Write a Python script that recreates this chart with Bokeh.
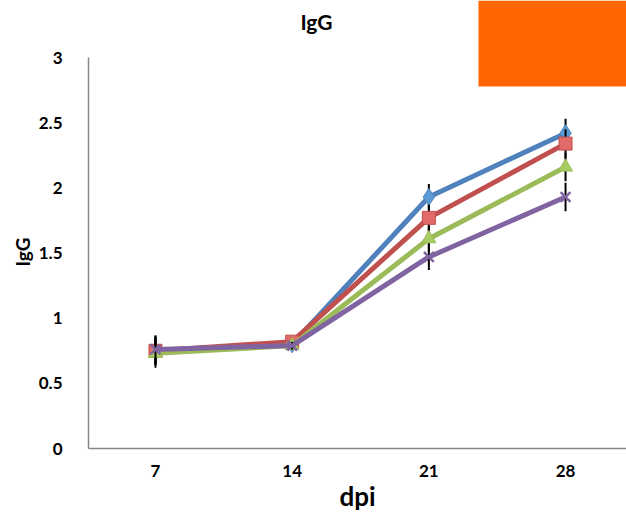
from bokeh.plotting import figure
from bokeh.models import FixedTicker, BoxAnnotation, Range1d, Label, Title
from bokeh.embed import file_html
from bokeh.resources import INLINE

days = ["7", "14", "21", "28"]
xpos = [1, 2, 3, 4]
blue = [0.75, 0.80, 1.93, 2.42]
red = [0.75, 0.82, 1.77, 2.34]
green = [0.73, 0.79, 1.61, 2.16]
purple = [0.76, 0.79, 1.47, 1.93]
err = [0.11, 0.03, 0.10, 0.11]

series = [
    (blue, "#4F81BD", "#5B9BD5", "diamond", 17),
    (red, "#C0504D", "#E06B68", "square", 13),
    (green, "#9BBB59", "#A9CC62", "triangle", 14),
    (purple, "#8064A2", "#8064A2", "x", 14),
]

p = figure(width=626, height=514, output_backend="svg", toolbar_location=None,
           x_range=Range1d(0.51, 4.446), y_range=Range1d(0, 3.438),
           min_border_left=88, min_border_right=0, min_border_top=0,
           min_border_bottom=66)

p.xgrid.visible = False
p.ygrid.visible = False
p.outline_line_color = None

for axis in (p.xaxis[0], p.yaxis[0]):
    axis.axis_line_color = "#868686"
    axis.axis_line_width = 1.5
    axis.major_tick_line_color = None
    axis.minor_tick_line_color = None
    axis.major_label_text_font = "Lato"
    axis.major_label_text_font_style = "bold"
    axis.major_label_text_font_size = "17px"
    axis.major_label_text_color = "black"
    axis.axis_label_text_font = "Lato"
    axis.axis_label_text_font_style = "bold"
    axis.axis_label_text_color = "black"

p.xaxis.ticker = FixedTicker(ticks=xpos)
p.xaxis.major_label_overrides = {x: d for x, d in zip(xpos, days)}
p.xaxis.major_label_standoff = 10
p.xaxis.axis_label = "dpi"
p.xaxis.axis_label_text_font_size = "26px"
p.xaxis.axis_label_standoff = 0

p.yaxis.ticker = FixedTicker(ticks=[0, 0.5, 1, 1.5, 2, 2.5, 3])
p.yaxis.major_label_overrides = {0: "0", 0.5: "0.5", 1: "1", 1.5: "1.5", 2: "2", 2.5: "2.5", 3: "3"}
p.yaxis.bounds = (0, 3)
p.yaxis.major_label_standoff = 20

for vals, lc, fc, marker, size in series:
    p.line(xpos, vals, line_color=lc, line_width=5)
    lo = [v - e for v, e in zip(vals, err)]
    hi = [v + e for v, e in zip(vals, err)]
    p.segment(x0=xpos, y0=lo, x1=xpos, y1=hi, line_color="black", line_width=2)
    if marker == "x":
        p.scatter(xpos, vals, marker=marker, size=size, line_color=lc, line_width=2.5)
    else:
        p.scatter(xpos, vals, marker=marker, size=size, fill_color=fc, line_color=lc, line_width=1)

title = Label(x=316, y=21, x_units="canvas", y_units="canvas", text="IgG",
              text_font="Lato", text_font_style="bold", text_font_size="21px",
              text_color="black", text_align="center", text_baseline="middle")
p.add_layout(title)

ylab = Title(text="IgG", align="left", offset=182, standoff=4,
             text_font="Lato", text_font_style="bold", text_font_size="19px",
             text_color="black")
p.add_layout(ylab, "left")

box = BoxAnnotation(left=478, right=626, top=0, bottom=86,
                    left_units="canvas", right_units="canvas",
                    top_units="canvas", bottom_units="canvas",
                    fill_color="#FF6600", fill_alpha=1.0, line_color=None)
p.add_layout(box)

open("out.html", "w").write(file_html(p, INLINE))
